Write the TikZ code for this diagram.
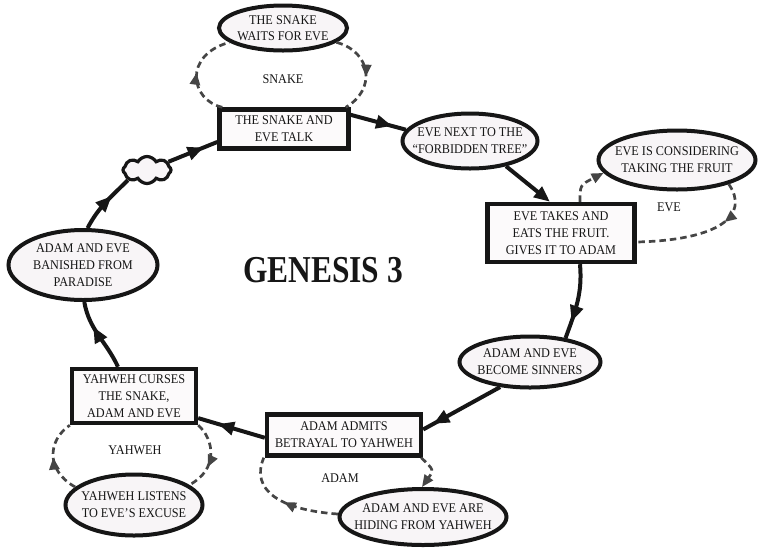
\documentclass[tikz,border=0pt]{standalone}
\usepackage{fontspec}
\usepackage{graphicx}
\setmainfont[FakeStretch=0.92]{Liberation Serif}
\usetikzlibrary{shapes.geometric,shapes.symbols,arrows.meta,decorations.markings}
\definecolor{nfill}{HTML}{F8F5F7}
\definecolor{rfill}{HTML}{FCFAFB}
\definecolor{ink}{HTML}{161616}
\begin{document}
\begin{tikzpicture}[x=1pt,y=1pt,
  lbl/.style={font=\fontsize{13.3}{17}\selectfont, align=center, text=ink, inner sep=0pt},
  ell/.style={ellipse, draw=ink, line width=4pt, fill=nfill, inner sep=0pt},
  box/.style={rectangle, draw=ink, line width=4.4pt, fill=rfill, inner sep=0pt, align=center,
              font=\fontsize{13.3}{17}\selectfont, text=ink},
  flow/.style={draw=ink, line width=4pt},
  midarrow/.style={decoration={markings, mark=at position #1 with {\arrow{Triangle[length=16pt,width=13pt]}}}, postaction={decorate}},
  flowtip/.style={-{Triangle[length=16pt,width=13pt]}},
  loopline/.style={draw=ink!80, line width=2.7pt, dash pattern=on 6.5pt off 4pt},
  loopmark/.style={decoration={markings, mark=at position #1 with {\arrow{Triangle[length=12pt,width=10pt]}}}, postaction={decorate}},
  looptip/.style={-{Triangle[length=12pt,width=10pt]}}
]
\useasboundingbox (0,0) rectangle (760,-547);

% ellipses
\node[ell, minimum width=128pt, minimum height=45pt] (e1) at (283,-28) {};
\node[lbl, font=\fontsize{13.3}{16}\selectfont] (t1) at (e1) {THE SNAKE\\WAITS FOR EVE};
\node[ell, minimum width=135pt, minimum height=55pt] (e2) at (470,-141) {};
\node[lbl] (t2) at (e2) {EVE NEXT TO THE\\``FORBIDDEN TREE''};
\node[ell, minimum width=157pt, minimum height=59pt] (e3) at (677,-160) {};
\node[lbl] (t3) at (e3) {EVE IS CONSIDERING\\TAKING THE FRUIT};
\node[ell, minimum width=141pt, minimum height=51pt] (e4) at (530,-362) {};
\node[lbl] (t4) at (e4) {ADAM AND EVE\\BECOME SINNERS};
\node[ell, minimum width=167pt, minimum height=56pt] (e5) at (423,-517) {};
\node[lbl] (t5) at (e5) {ADAM AND EVE ARE\\HIDING FROM YAHWEH};
\node[ell, minimum width=137pt, minimum height=61pt] (e6) at (134,-505) {};
\node[lbl] (t6) at (e6) {YAHWEH LISTENS\\TO EVE'S EXCUSE};
\node[ell, minimum width=149pt, minimum height=70pt] (e7) at (83,-265) {};
\node[lbl] (t7) at (e7) {ADAM AND EVE\\BANISHED FROM\\PARADISE};
\node[cloud, cloud puffs=8, cloud puff arc=120, aspect=1.7, draw=ink, line width=3.2pt,
      fill=nfill, minimum width=48pt, minimum height=27pt, inner sep=0pt] (cl) at (147,-170) {};

% boxes
\node[box, minimum width=129pt, minimum height=39pt] (r1) at (284,-129) {THE SNAKE AND\\EVE TALK};
\node[box, minimum width=147pt, minimum height=58pt] (r2) at (561,-233) {EVE TAKES AND\\EATS THE FRUIT.\\GIVES IT TO ADAM};
\node[box, minimum width=154pt, minimum height=41pt] (r3) at (344,-435) {ADAM ADMITS\\BETRAYAL TO YAHWEH};
\node[box, minimum width=124pt, minimum height=54pt] (r4) at (134,-396) {YAHWEH CURSES\\THE SNAKE,\\ADAM AND EVE};

% loop labels
\node[lbl] (l1) at (283,-79) {SNAKE};
\node[lbl] (l2) at (669,-207) {EVE};
\node[lbl] (l3) at (340,-478) {ADAM};
\node[lbl] (l4) at (135,-450) {YAHWEH};
\node[font=\bfseries\fontsize{38}{40}\selectfont, text=ink, inner sep=0pt] (title) at (323,-270) {\scalebox{0.9}[1]{GENESIS 3}};

% main cycle
\draw[flow, midarrow=0.75] (r1.12) -- (e2.170);
\draw[flow, flowtip] (e2.-35) -- ([xshift=-11pt]r2.north);
\draw[flow, midarrow=0.77] ([xshift=19pt]r2.south) to[out=-85,in=70] (e4.34);
\draw[flow, midarrow=0.87] (e4.220) -- (r3.4);
\draw[flow, midarrow=0.7] (r3.182) -- (r4.-19);
\draw[flow, midarrow=0.64] ([xshift=-16pt]r4.north) to[out=115,in=-80] (e7.-88);
\draw[flow, midarrow=0.64] (e7.83) to[out=62,in=-135] (cl.208);
\draw[flow, midarrow=0.72] (cl.21) -- (r1.191);

% dashed loops
\draw[loopline, loopmark=0.5] ([xshift=5pt]r1.north west) .. controls (190,-100) and (183,-55) .. (e1.195);
\draw[loopline, loopmark=0.56] (e1.-15) .. controls (372,-52) and (376,-90) .. ([xshift=-5pt]r1.north east);
\draw[loopline, looptip] ([xshift=19pt]r2.north) .. controls (580,-185) .. (e3.190);
\draw[loopline, loopmark=0.32] (e3.-25) .. controls (750,-215) and (720,-240) .. ([yshift=-9pt]r2.east);
\draw[loopline, loopmark=0.5] (e6.163) .. controls (45,-470) and (48,-440) .. (r4.south west);
\draw[loopline, loopmark=0.64] (r4.south east) .. controls (215,-440) and (218,-470) .. (e6.20);
\draw[loopline, loopmark=0.5] (e5.178) .. controls (280,-510) and (250,-490) .. ([xshift=-1pt]r3.south west);
\draw[loopline, looptip] ([xshift=-2pt]r3.south east) .. controls (434,-470) .. (e5.92);
\end{tikzpicture}
\end{document}
